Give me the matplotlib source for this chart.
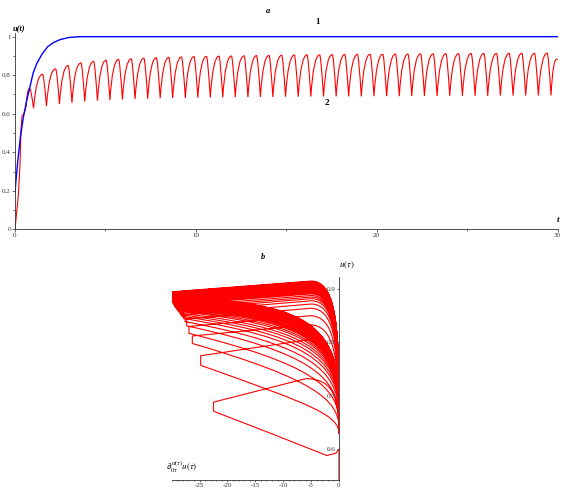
import matplotlib

matplotlib.use("Agg")
import matplotlib.pyplot as plt
from matplotlib.path import Path
from matplotlib.patches import PathPatch
from matplotlib.ticker import MultipleLocator

plt.rcParams["font.family"] = ["Liberation Serif", "DejaVu Serif"]
plt.rcParams["mathtext.fontset"] = "stix"
plt.rcParams["axes.unicode_minus"] = False

# ---- panel a: u(t), curve 1 (blue) ----
blue_t = [0.0, 0.05, 0.15, 0.30, 0.46, 0.65, 0.83, 1.00, 1.20, 1.50, 1.80, 2.10, 2.50, 3.00, 3.60, 30.0]
blue_u = [0.19, 0.25, 0.35, 0.48, 0.58, 0.67, 0.74, 0.81, 0.86, 0.91, 0.947, 0.968, 0.985, 0.996, 1.0, 1.0]

# ---- panel a: curve 2 (red), start, peaks, troughs, end ----
red_start_t = [0.0, 0.18, 0.28, 0.33, 0.39, 0.50, 0.61]
red_start_u = [0.0, 0.17, 0.34, 0.515, 0.59, 0.60, 0.637]

peak_t = [0.81, 1.53, 2.25, 2.94, 3.65, 4.35, 5.04, 5.73, 6.43, 7.13,
          7.82, 8.51, 9.21, 9.90, 10.59, 11.28, 11.97, 12.67, 13.36, 14.05,
          14.75, 15.45, 16.15, 16.85, 17.55, 18.24, 18.94, 19.64, 20.34, 21.04,
          21.73, 22.43, 23.13, 23.83, 24.53, 25.23, 25.93, 26.63, 27.33, 28.03,
          28.73, 29.43]
peak_u = [0.732, 0.805, 0.833, 0.850, 0.864, 0.872, 0.878, 0.882, 0.885, 0.888,
          0.891, 0.893, 0.895, 0.897, 0.898, 0.899, 0.900, 0.901, 0.902, 0.903,
          0.904, 0.905, 0.906, 0.906, 0.907, 0.908, 0.908, 0.909, 0.909, 0.910,
          0.910, 0.911, 0.911, 0.912, 0.912, 0.913, 0.913, 0.913, 0.914, 0.914,
          0.914, 0.915]
trough_t = [1.03, 1.74, 2.46, 3.15, 3.86, 4.56, 5.25, 5.94, 6.64, 7.34,
            8.03, 8.72, 9.42, 10.11, 10.80, 11.49, 12.18, 12.88, 13.57, 14.26,
            14.96, 15.66, 16.36, 17.06, 17.76, 18.45, 19.15, 19.85, 20.55, 21.25,
            21.94, 22.64, 23.34, 24.04, 24.74, 25.44, 26.14, 26.84, 27.54, 28.24,
            28.94, 29.64]
trough_u = [0.628, 0.640, 0.650, 0.657, 0.663, 0.668, 0.671, 0.674, 0.676, 0.678,
            0.680, 0.681, 0.682, 0.683, 0.684, 0.685, 0.686, 0.686, 0.687, 0.687,
            0.688, 0.688, 0.689, 0.689, 0.690, 0.690, 0.690, 0.691, 0.691, 0.691,
            0.692, 0.692, 0.692, 0.693, 0.693, 0.693, 0.693, 0.694, 0.694, 0.694,
            0.694, 0.695]
red_end_t = 30.0
red_end_u = 0.88

# ---- panel b: phase portrait (one loop per oscillation) ----
phase_start_x = [0.0, 0.0, -0.6, -2.2]
phase_start_u = [0.50, 0.600, 0.592, 0.588]
# lower branch controls: (0, low_c1_u) and (low_c2_x, low_c2_u)
low_c1_u = [0.612, 0.663, 0.692, 0.717, 0.736, 0.751, 0.764, 0.774, 0.783, 0.789,
            0.796, 0.801, 0.806, 0.809, 0.812, 0.816, 0.819, 0.821, 0.822, 0.824,
            0.826, 0.828, 0.829, 0.831, 0.832, 0.833, 0.834, 0.834, 0.836, 0.836,
            0.837, 0.839, 0.839, 0.840, 0.841, 0.841, 0.842, 0.842, 0.843, 0.844,
            0.844, 0.844]
low_c2_x = [-16.0, -4.0, -4.6, -5.1, -5.5, -5.8, -6.1, -6.4, -6.6, -6.7,
            -6.9, -7.0, -7.1, -7.2, -7.3, -7.4, -7.4, -7.5, -7.5, -7.6,
            -7.6, -7.6, -7.7, -7.7, -7.7, -7.8, -7.8, -7.8, -7.8, -7.8,
            -7.9, -7.9, -7.9, -7.9, -7.9, -7.9, -8.0, -8.0, -8.0, -8.0,
            -8.0, -8.0]
low_c2_u = [0.645, 0.680, 0.732, 0.760, 0.782, 0.796, 0.807, 0.815, 0.822, 0.828,
            0.834, 0.838, 0.842, 0.845, 0.848, 0.850, 0.853, 0.855, 0.856, 0.858,
            0.860, 0.861, 0.863, 0.864, 0.865, 0.867, 0.867, 0.868, 0.869, 0.870,
            0.870, 0.872, 0.872, 0.874, 0.874, 0.875, 0.875, 0.875, 0.877, 0.877,
            0.877, 0.878]
left_x = [-22.5, -24.8, -26.3, -26.9, -27.3, -27.6, -27.9, -28.2, -28.4, -28.6,
          -28.8, -28.95, -29.1, -29.2, -29.3, -29.35, -29.4, -29.45, -29.5, -29.55,
          -29.6, -29.65, -29.7, -29.7, -29.75, -29.8, -29.8, -29.85, -29.85, -29.9,
          -29.9, -29.92, -29.92, -29.94, -29.94, -29.95, -29.95, -29.95, -29.95, -29.95,
          -29.95, -29.95]
left_lo = [0.671, 0.757, 0.798, 0.817, 0.831, 0.839, 0.845, 0.849, 0.852, 0.855,
           0.858, 0.860, 0.862, 0.864, 0.865, 0.866, 0.867, 0.868, 0.869, 0.870,
           0.871, 0.872, 0.873, 0.873, 0.874, 0.875, 0.875, 0.876, 0.876, 0.877,
           0.877, 0.878, 0.878, 0.879, 0.879, 0.880, 0.880, 0.880, 0.881, 0.881,
           0.881, 0.882]
left_hi = [0.688, 0.775, 0.812, 0.830, 0.844, 0.852, 0.858, 0.862, 0.865, 0.868,
           0.871, 0.873, 0.875, 0.877, 0.878, 0.879, 0.880, 0.881, 0.882, 0.883,
           0.884, 0.885, 0.886, 0.886, 0.887, 0.888, 0.888, 0.889, 0.889, 0.890,
           0.890, 0.891, 0.891, 0.892, 0.892, 0.893, 0.893, 0.893, 0.894, 0.894,
           0.894, 0.895]
peak_x = [-6.0, -5.5, -5.3, -5.2, -5.1, -5.0, -5.0, -5.0, -5.0, -5.0,
          -5.0, -5.0, -5.0, -5.0, -5.0, -5.0, -5.0, -5.0, -5.0, -5.0,
          -5.0, -5.0, -5.0, -5.0, -5.0, -5.0, -5.0, -5.0, -5.0, -5.0,
          -5.0, -5.0, -5.0, -5.0, -5.0, -5.0, -5.0, -5.0, -5.0, -5.0,
          -5.0, -5.0]

RED = "#ff0000"
BLUE = "#0000ff"

fig = plt.figure(figsize=(5.70, 5.01), dpi=100)

# ================= panel a =================
ax1 = fig.add_axes([0.0263, 0.5423, 0.9518, 0.3922])

verts = [(red_start_t[0], red_start_u[0])]
codes = [Path.MOVETO]
for t, u in zip(red_start_t[1:], red_start_u[1:]):
    verts.append((t, u))
    codes.append(Path.LINETO)
for pt, pu, tt, tu in zip(peak_t, peak_u, trough_t, trough_u):
    t0 = verts[-1][0]
    # rise: steep start, rounded top
    verts += [(t0 + 0.3 * (pt - t0), pu), (pt, pu)]
    codes += [Path.CURVE3] * 2
    # fall: steep, sharp trough
    verts += [(pt + 0.3 * (tt - pt), pu), (tt, tu)]
    codes += [Path.CURVE3] * 2
t0 = verts[-1][0]
verts += [(t0 + 0.12, red_end_u + 0.03), (red_end_t, red_end_u)]
codes += [Path.CURVE3] * 2
ax1.add_patch(PathPatch(Path(verts, codes), fill=False, edgecolor=RED, lw=0.8))

ax1.plot(blue_t, blue_u, color=BLUE, lw=1.0)
ax1.set_xlim(0, 30)
ax1.set_ylim(0, 1.02)
ax1.spines["top"].set_visible(False)
ax1.spines["right"].set_visible(False)
for s in ("left", "bottom"):
    ax1.spines[s].set_linewidth(0.6)
    ax1.spines[s].set_color("#333333")
ax1.xaxis.set_major_locator(MultipleLocator(10))
ax1.xaxis.set_minor_locator(MultipleLocator(5))
ax1.yaxis.set_minor_locator(MultipleLocator(0.1))
ax1.set_yticks([0, 0.2, 0.4, 0.6, 0.8, 1.0])
ax1.set_yticklabels(["0", "0.2", "0.4", "0.6", "0.8", "1"])
ax1.tick_params(which="both", direction="out", length=2, width=0.5,
                labelsize=5, pad=1, colors="#333333")
ax1.tick_params(which="minor", length=1.5)

# ================= panel b =================
ax2 = fig.add_axes([0.3012, 0.0419, 0.2935, 0.4045])
verts = [(phase_start_x[0], phase_start_u[0])]
codes = [Path.MOVETO]
for x, u in zip(phase_start_x[1:], phase_start_u[1:]):
    verts.append((x, u))
    codes.append(Path.LINETO)
for k in range(len(peak_u)):
    cx = verts[-1][0]
    if k == 0:
        c1 = (-8.0, low_c1_u[k])
    else:
        c1 = (cx, low_c1_u[k])
    # lower branch up-left to the turning point
    verts += [c1, (low_c2_x[k], low_c2_u[k]), (left_x[k], left_lo[k])]
    codes += [Path.CURVE4] * 3
    # short rise at the turning point, then upper branch to the peak
    verts += [(left_x[k], left_hi[k]), (peak_x[k], peak_u[k])]
    codes += [Path.LINETO] * 2
    # rounded descent back to the trough near the axis
    drop = peak_u[k] - 0.3 * (peak_u[k] - trough_u[k])
    verts += [(0.2 * peak_x[k], peak_u[k]), (0.0, drop), (0.0, trough_u[k])]
    codes += [Path.CURVE4] * 3

ax2.add_patch(PathPatch(Path(verts, codes), fill=False, edgecolor=RED, lw=0.8))
ax2.set_xlim(-30, 0)
ax2.set_ylim(0.542, 0.922)
ax2.spines["top"].set_visible(False)
ax2.spines["right"].set_visible(False)
ax2.spines["left"].set_position(("data", 0))
for s in ("left", "bottom"):
    ax2.spines[s].set_linewidth(0.6)
    ax2.spines[s].set_color("#333333")
ax2.set_xticks([-25, -20, -15, -10, -5, 0])
ax2.xaxis.set_minor_locator(MultipleLocator(1))
ax2.set_yticks([0.6, 0.7, 0.8, 0.9])
ax2.tick_params(which="both", direction="out", length=1.5, width=0.5,
                labelsize=5, pad=1, colors="#333333")
ax2.tick_params(which="minor", length=1)

# ================= labels =================
fig.text(0.470, 0.978, "a", fontsize=6, fontweight="bold", fontstyle="italic", ha="center", va="center")
fig.text(0.557, 0.957, "1", fontsize=6.5, fontweight="bold", ha="center", va="center")
fig.text(0.573, 0.794, "2", fontsize=6.5, fontweight="bold", ha="center", va="center")
fig.text(0.034, 0.942, "u(t)", fontsize=6, fontweight="bold", fontstyle="italic", ha="center", va="center")
fig.text(0.979, 0.561, "t", fontsize=6.5, fontweight="bold", fontstyle="italic", ha="center", va="center")
fig.text(0.462, 0.488, "b", fontsize=6, fontweight="bold", fontstyle="italic", ha="center", va="center")
fig.text(0.608, 0.471, r"$u(\tau)$", fontsize=6.5, ha="center", va="center")
fig.text(0.319, 0.068, r"$\partial_{0\tau}^{\,\alpha(\tau)}u(\tau)$", fontsize=6.5, ha="center", va="center")

fig.savefig("out.png", dpi=100)
